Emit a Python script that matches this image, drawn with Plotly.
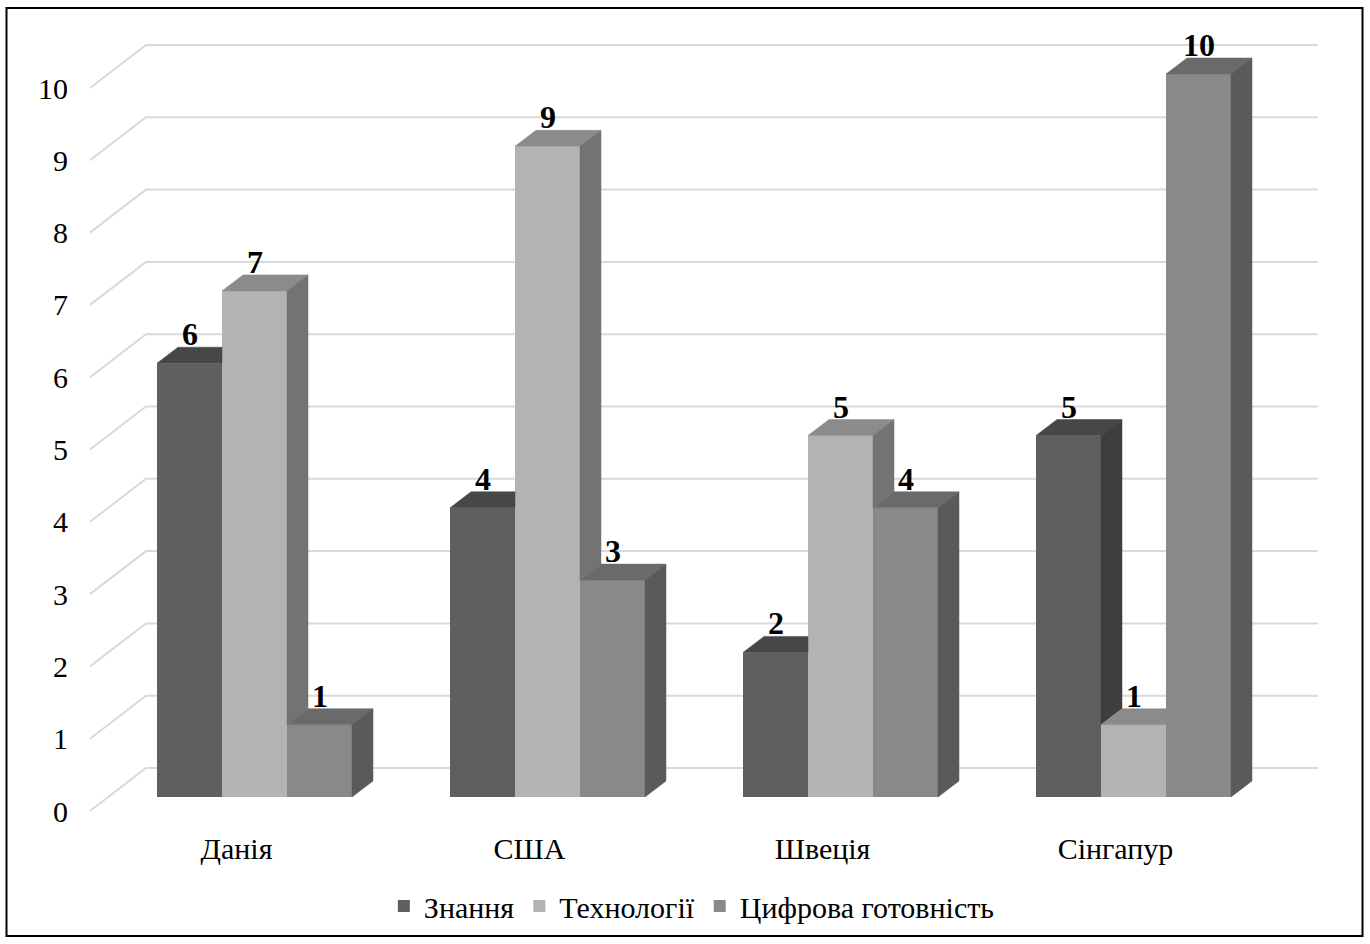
import plotly.graph_objects as go

# ---- data ----
categories = ["Данія", "США", "Швеція", "Сінгапур"]
series_names = ["Знання", "Технології", "Цифрова готовність"]
znannia = [6, 4, 2, 5]
tekhnolohii = [7, 9, 5, 1]
tsyfrova = [1, 3, 4, 10]
y_ticks = list(range(0, 11))

series_values = [znannia, tekhnolohii, tsyfrova]

# ---- styling ----
front_colors = ["#5f5f5f", "#b3b3b3", "#898989"]
top_colors = ["#474747", "#8b8b8b", "#6a6a6a"]
side_colors = ["#3e3e3e", "#737373", "#5a5a5a"]
grid_color = "#d9d9d9"
FONT = "Liberation Serif"
TEXT_SIZE = 30
VALUE_SIZE = 32

W, H = 1370, 944

# scale of the bar front plane (pixels per unit)
PX_PER_CAT = 293.0
PX_PER_UNIT = 72.3
ORIGIN_X = 254.5   # pixel of first category centre
ORIGIN_Y = 797.0   # pixel of value 0 on the bar front plane
x_range = [-ORIGIN_X / PX_PER_CAT, (W - ORIGIN_X) / PX_PER_CAT]
y_range = [(ORIGIN_Y - H) / PX_PER_UNIT, ORIGIN_Y / PX_PER_UNIT]

GROUP_W = 195.0 / PX_PER_CAT
BAR_W = GROUP_W / 3
# oblique depth of one bar
DEPTH_DX = 21.0 / PX_PER_CAT
DEPTH_DY = 16.0 / PX_PER_UNIT
# front edge of the floor and the back wall, relative to the bar front plane
FRONT_DX, FRONT_DY = -18.0 / PX_PER_CAT, -14.0 / PX_PER_UNIT
BACK_DX, BACK_DY = 38.0 / PX_PER_CAT, 29.0 / PX_PER_UNIT
FLOOR_L, FLOOR_R = -0.5, len(categories) - 0.5

xs = list(range(len(categories)))

fig = go.Figure()

# front faces
for i, (name, vals) in enumerate(zip(series_names, series_values)):
    fig.add_trace(go.Bar(
        x=xs, y=vals, name=name,
        marker=dict(color=front_colors[i], line=dict(width=0)),
        hoverinfo="skip",
    ))


def poly(pts, color):
    px = [p[0] for p in pts] + [pts[0][0]]
    py = [p[1] for p in pts] + [pts[0][1]]
    return go.Scatter(x=px, y=py, mode="lines", fill="toself",
                      fillcolor=color, line=dict(color=color, width=0.5),
                      hoverinfo="skip", showlegend=False)


# top and side faces, clipped where the next bar hides them
for c in xs:
    for i, vals in enumerate(series_values):
        v = vals[c]
        xl = c + (i - 1.5) * BAR_W
        xr = xl + BAR_W
        nxt = series_values[i + 1][c] if i + 1 < len(series_values) else None
        if nxt is not None and nxt >= v:
            top = [(xl, v), (xr, v), (xr, v + DEPTH_DY), (xl + DEPTH_DX, v + DEPTH_DY)]
        else:
            top = [(xl, v), (xr, v), (xr + DEPTH_DX, v + DEPTH_DY), (xl + DEPTH_DX, v + DEPTH_DY)]
        fig.add_trace(poly(top, top_colors[i]))
        if nxt is None or nxt < v:
            base = 0 if nxt is None else nxt
            side = [(xr, base), (xr, v), (xr + DEPTH_DX, v + DEPTH_DY), (xr + DEPTH_DX, base + DEPTH_DY)]
            fig.add_trace(poly(side, side_colors[i]))

# invisible anchors so the front-edge label axes are drawn
fig.add_trace(go.Scatter(x=[0], y=[0], xaxis="x", yaxis="y2", mode="markers",
                         marker=dict(opacity=0), hoverinfo="skip", showlegend=False))
fig.add_trace(go.Scatter(x=[0], y=[0], xaxis="x2", yaxis="y", mode="markers",
                         marker=dict(opacity=0), hoverinfo="skip", showlegend=False))

# value labels above each bar
annotations = []
for c in xs:
    for i, vals in enumerate(series_values):
        v = vals[c]
        annotations.append(dict(
            x=c + (i - 1) * BAR_W, y=v + DEPTH_DY, xref="x", yref="y",
            text=f"<b>{v}</b>", showarrow=False, yanchor="bottom", yshift=-7,
            font=dict(family=FONT, size=VALUE_SIZE, color="black"),
        ))

# back wall gridlines with the side wall diagonals
shapes = []
for t in y_ticks:
    x0, y0 = FLOOR_L + FRONT_DX, t + FRONT_DY
    x1, y1 = FLOOR_L + BACK_DX, t + BACK_DY
    x2 = FLOOR_R + BACK_DX
    shapes.append(dict(
        type="path", xref="x", yref="y", layer="below",
        path=f"M {x0},{y0} L {x1},{y1} L {x2},{y1}",
        line=dict(color=grid_color, width=2),
    ))

# outer frame
shapes.append(dict(type="rect", xref="paper", yref="paper",
                   x0=6.5 / W, x1=1362.5 / W, y0=1 - 936 / H, y1=1 - 8 / H,
                   line=dict(color="black", width=2), layer="above"))

front_left_px = ORIGIN_X + (FLOOR_L + FRONT_DX) * PX_PER_CAT
front_zero_px = ORIGIN_Y - FRONT_DY * PX_PER_UNIT

fig.update_layout(
    width=W, height=H, autosize=False,
    margin=dict(l=0, r=0, t=0, b=0),
    paper_bgcolor="white", plot_bgcolor="white",
    barmode="group", bargap=1 - GROUP_W, bargroupgap=0,
    font=dict(family=FONT, size=TEXT_SIZE, color="black"),
    xaxis=dict(range=x_range, domain=[0, 1], visible=False, fixedrange=True),
    yaxis=dict(range=y_range, domain=[0, 1], visible=False, fixedrange=True),
    # value axis labels on the front edge of the floor
    yaxis2=dict(
        overlaying="y", anchor="free", position=front_left_px / W, side="left",
        range=[y_range[0] - FRONT_DY, y_range[1] - FRONT_DY],
        tickmode="array", tickvals=y_ticks, ticktext=[str(t) for t in y_ticks],
        showgrid=False, zeroline=False, showline=False, ticks="",
        ticklabelstandoff=22, tickfont=dict(family=FONT, size=TEXT_SIZE, color="black"),
        fixedrange=True,
    ),
    # category labels on the front edge of the floor
    xaxis2=dict(
        overlaying="x", anchor="free", position=1 - front_zero_px / H, side="bottom",
        range=[x_range[0] - FRONT_DX, x_range[1] - FRONT_DX],
        tickmode="array", tickvals=xs, ticktext=categories,
        showgrid=False, zeroline=False, showline=False, ticks="",
        ticklabelstandoff=17, tickfont=dict(family=FONT, size=TEXT_SIZE, color="black"),
        fixedrange=True,
    ),
    legend=dict(
        orientation="h", x=0.505, xanchor="center", y=1 - 906 / H, yanchor="middle",
        font=dict(family=FONT, size=TEXT_SIZE, color="black"),
        itemwidth=30, traceorder="normal", bgcolor="rgba(0,0,0,0)",
    ),
    annotations=annotations,
    shapes=shapes,
)

fig.write_html("out.html")
